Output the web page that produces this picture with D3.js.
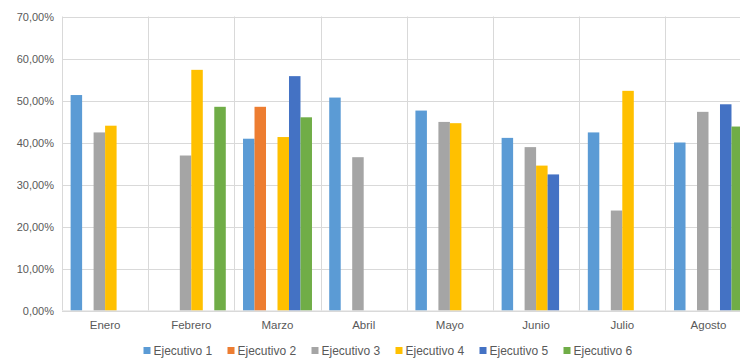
<!DOCTYPE html>
<html>
<head>
<meta charset="utf-8">
<script src="https://cdn.jsdelivr.net/npm/d3@7"></script>
<style>
  html, body { margin: 0; padding: 0; background: #fff; overflow: hidden; }
  svg { display: block; font-family: "Liberation Sans", "DejaVu Sans", sans-serif; }
</style>
</head>
<body>
<svg id="chart" width="740" height="362"></svg>
<script>
// Monthly results per executive (percent); null = no bar for that month
const months = ["Enero", "Febrero", "Marzo", "Abril", "Mayo", "Junio", "Julio", "Agosto"];
const seriesNames = ["Ejecutivo 1", "Ejecutivo 2", "Ejecutivo 3", "Ejecutivo 4", "Ejecutivo 5", "Ejecutivo 6"];
const ejecutivo1 = [51.3, null, 40.9, 50.7, 47.6, 41.1, 42.4, 40.0];
const ejecutivo2 = [null, null, 48.5, null, null, null, null, null];
const ejecutivo3 = [42.4, 36.9, null, 36.5, 44.9, 38.9, 23.8, 47.3];
const ejecutivo4 = [44.0, 57.3, 41.3, null, 44.6, 34.5, 52.3, null];
const ejecutivo5 = [null, null, 55.8, null, null, 32.4, null, 49.1];
const ejecutivo6 = [null, 48.5, 46.0, null, null, null, null, 43.8];
const yTicks = [0, 10, 20, 30, 40, 50, 60, 70];
const colors = ["#5B9BD5", "#ED7D31", "#A5A5A5", "#FFC000", "#4472C4", "#70AD47"];

const allSeries = [ejecutivo1, ejecutivo2, ejecutivo3, ejecutivo4, ejecutivo5, ejecutivo6];

const svg = d3.select("#chart");
const plotLeft = 62, plotRight = 751.6, plotTop = 16.5, plotBottom = 310.5;

const y = d3.scaleLinear().domain([0, 70]).range([plotBottom, plotTop]);
const x0 = d3.scaleBand().domain(months).range([plotLeft, plotRight]).padding(0);
const gap = x0.bandwidth() * 0.1;
const x1 = d3.scaleBand().domain(seriesNames).range([gap, x0.bandwidth() - gap]).padding(0);

const fmt = v => d3.format(".2f")(v).replace(".", ",") + "%";

// Horizontal gridlines
svg.append("g").selectAll("line").data(yTicks).join("line")
  .attr("x1", plotLeft).attr("x2", plotRight)
  .attr("y1", d => Math.round(y(d)) + 0.5).attr("y2", d => Math.round(y(d)) + 0.5)
  .attr("stroke", "#d9d9d9").attr("stroke-width", 1);

// Vertical category separators
svg.append("g").selectAll("line").data(d3.range(months.length + 1)).join("line")
  .attr("x1", i => Math.round(plotLeft + i * x0.step()) + 0.5)
  .attr("x2", i => Math.round(plotLeft + i * x0.step()) + 0.5)
  .attr("y1", plotTop).attr("y2", plotBottom)
  .attr("stroke", "#d9d9d9").attr("stroke-width", 1);

// Y axis labels
const yAxis = d3.axisLeft(y).tickValues(yTicks).tickFormat(fmt).tickSize(0).tickPadding(8);
const gy = svg.append("g").attr("transform", `translate(${plotLeft},0)`).call(yAxis);
gy.select(".domain").remove();
gy.selectAll("text").attr("fill", "#595959").style("font-size", "11px");

// Bars
const groups = svg.append("g").selectAll("g").data(months).join("g")
  .attr("transform", d => `translate(${x0(d)},0)`);
groups.selectAll("rect")
  .data((m, i) => seriesNames.map((s, j) => ({ s, j, v: allSeries[j][i] })).filter(d => d.v !== null))
  .join("rect")
  .attr("x", d => x1(d.s))
  .attr("width", x1.bandwidth())
  .attr("y", d => y(d.v))
  .attr("height", d => y(0) - y(d.v))
  .attr("fill", d => colors[d.j]);

// Category axis
const xAxis = d3.axisBottom(x0).tickSize(0).tickPadding(10);
const gx = svg.append("g").attr("transform", `translate(0,${plotBottom})`).call(xAxis);
gx.select(".domain").attr("stroke", "#d9d9d9");
gx.selectAll("text").attr("fill", "#595959").style("font-size", "11.5px");

// Legend
const legendX = d3.scalePoint().domain(seriesNames).range([143.5, 563.5]);
const lg = svg.append("g").selectAll("g").data(seriesNames).join("g")
  .attr("transform", d => `translate(${legendX(d)},354)`);
lg.append("rect").attr("x", 0).attr("y", -7).attr("width", 7).attr("height", 7)
  .attr("fill", (d, i) => colors[i]);
lg.append("text").attr("x", 10).attr("y", 0.5).text(d => d)
  .attr("fill", "#595959").style("font-size", "12px");
</script>
</body>
</html>
